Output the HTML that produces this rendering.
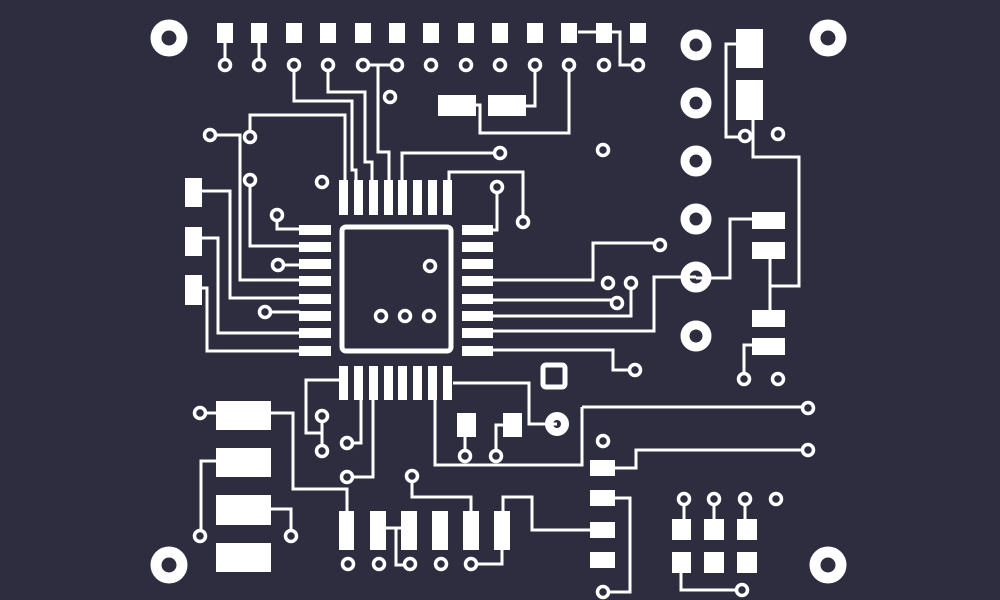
<!DOCTYPE html>
<html><head><meta charset="utf-8"><style>
html,body{margin:0;padding:0;background:#2d2d3f;}
svg{display:block}
</style></head><body>
<svg width="1000" height="600" viewBox="0 0 1000 600" xmlns="http://www.w3.org/2000/svg">
<rect width="1000" height="600" fill="#2d2d3f"/>
<g fill="none" stroke="#fff" stroke-width="3">
<path d="M225,34V65M259,34V65"/>
<path d="M294,65V101H352V170H356V181"/>
<path d="M328,65V92H365V162H372V181"/>
<path d="M363,65H397M378,65V152H389V181"/>
<path d="M250,137V115H345V181"/>
<path d="M210,135H240V280H300"/>
<path d="M250,180V246H300"/>
<path d="M277,215V229H300"/>
<path d="M278,265H300"/>
<path d="M265,312H300"/>
<path d="M202,191H230V298H300"/>
<path d="M202,238H218V333H300"/>
<path d="M202,288H207V351H300"/>
<path d="M402,181V153H500"/>
<path d="M449,181V172H523V222"/>
<path d="M497,187V230H492"/>
<path d="M535,65V106H526"/>
<path d="M476,105H480V133H569V65"/>
<path d="M578,32H596M612,32H620V65H638"/>
<path d="M492,280H593V243H660"/>
<path d="M492,300H617"/>
<path d="M492,316H631V283"/>
<path d="M492,331H654V277H696"/>
<path d="M492,350H613V370H635"/>
<path d="M736,44H726V137H745"/>
<path d="M753,120V157H799V286H770"/>
<path d="M770,259V310"/>
<path d="M752,219H730V278H696"/>
<path d="M752,345H744V379"/>
<path d="M582,407H808M582,407V465H435V400"/>
<path d="M615,468H636V450H808"/>
<path d="M615,498H630V592H603"/>
<path d="M590,530H532V497H503V512"/>
<path d="M684,499V520M714,499V520M745,499V520"/>
<path d="M681,573V590H742"/>
<path d="M200,413H216M271,413H293V489H347V512"/>
<path d="M216,461H201V536"/>
<path d="M271,509H291V536"/>
<path d="M386,528H401M396,528V565H410"/>
<path d="M412,476V497H471V512"/>
<path d="M502,550V564H471"/>
<path d="M345,398V380H306V433H322M322,416V451"/>
<path d="M347,443H361V398"/>
<path d="M347,477H373V398"/>
<path d="M465,436V456M503,425H496V456"/>
<path d="M453,383H529V424H557"/>
</g>
<g fill="#fff">
<rect x="217" y="23" width="16" height="20"/><rect x="251" y="23" width="16" height="20"/>
<rect x="286" y="23" width="16" height="20"/><rect x="320" y="23" width="16" height="20"/>
<rect x="355" y="23" width="16" height="20"/><rect x="389" y="23" width="16" height="20"/>
<rect x="423" y="23" width="16" height="20"/><rect x="458" y="23" width="16" height="20"/>
<rect x="492" y="23" width="16" height="20"/><rect x="527" y="23" width="16" height="20"/>
<rect x="561" y="23" width="16" height="20"/><rect x="596" y="23" width="16" height="20"/>
<rect x="630" y="23" width="16" height="20"/>
<rect x="438" y="95" width="38" height="21"/><rect x="488" y="95" width="38" height="21"/>
<rect x="185" y="178" width="17" height="29"/><rect x="185" y="227" width="17" height="29"/><rect x="185" y="275" width="17" height="30"/>
<rect x="339" y="180" width="9" height="35"/><rect x="354" y="180" width="9" height="35"/><rect x="369" y="180" width="9" height="35"/><rect x="384" y="180" width="9" height="35"/><rect x="398" y="180" width="9" height="35"/><rect x="413" y="180" width="9" height="35"/><rect x="428" y="180" width="9" height="35"/><rect x="443" y="180" width="9" height="35"/>
<rect x="339" y="366" width="9" height="34"/><rect x="354" y="366" width="9" height="34"/><rect x="369" y="366" width="9" height="34"/><rect x="384" y="366" width="9" height="34"/><rect x="398" y="366" width="9" height="34"/><rect x="413" y="366" width="9" height="34"/><rect x="428" y="366" width="9" height="34"/><rect x="443" y="366" width="9" height="34"/>
<rect x="299" y="225" width="32" height="10"/><rect x="299" y="242" width="32" height="10"/><rect x="299" y="259" width="32" height="10"/><rect x="299" y="276" width="32" height="10"/><rect x="299" y="294" width="32" height="10"/><rect x="299" y="311" width="32" height="10"/><rect x="299" y="328" width="32" height="10"/><rect x="299" y="346" width="32" height="10"/>
<rect x="462" y="225" width="31" height="10"/><rect x="462" y="242" width="31" height="10"/><rect x="462" y="259" width="31" height="10"/><rect x="462" y="276" width="31" height="10"/><rect x="462" y="294" width="31" height="10"/><rect x="462" y="311" width="31" height="10"/><rect x="462" y="328" width="31" height="10"/><rect x="462" y="346" width="31" height="10"/>
<rect x="736" y="29" width="27" height="39"/><rect x="736" y="80" width="27" height="40"/>
<rect x="752" y="212" width="33" height="17"/><rect x="752" y="242" width="33" height="17"/><rect x="752" y="310" width="33" height="17"/><rect x="752" y="338" width="33" height="17"/>
<rect x="590" y="460" width="25" height="16"/><rect x="590" y="490" width="25" height="16"/><rect x="590" y="522" width="25" height="16"/><rect x="590" y="552" width="25" height="16"/>
<rect x="672" y="519" width="19" height="21"/><rect x="704" y="519" width="20" height="21"/><rect x="737" y="519" width="20" height="21"/>
<rect x="672" y="552" width="19" height="21"/><rect x="704" y="552" width="20" height="21"/><rect x="737" y="552" width="20" height="21"/>
<rect x="216" y="401" width="55" height="29"/><rect x="216" y="448" width="55" height="29"/><rect x="216" y="495" width="55" height="30"/><rect x="216" y="543" width="55" height="29"/>
<rect x="339" y="511" width="15" height="39"/><rect x="370" y="511" width="16" height="39"/><rect x="401" y="511" width="16" height="39"/><rect x="432" y="511" width="16" height="39"/><rect x="463" y="511" width="16" height="39"/><rect x="494" y="511" width="16" height="39"/>
<rect x="457" y="413" width="19" height="24"/><rect x="503" y="413" width="19" height="24"/>
</g>
<rect x="342" y="227" width="109" height="124" rx="4" fill="none" stroke="#fff" stroke-width="5"/>
<rect x="543" y="365" width="22" height="22" rx="3" fill="none" stroke="#fff" stroke-width="5"/>
<g fill="none" stroke="#fff">
<circle cx="169" cy="38" r="13" stroke-width="11"/><circle cx="828" cy="38" r="13" stroke-width="11"/>
<circle cx="828" cy="565" r="13" stroke-width="11"/><circle cx="169" cy="565" r="13" stroke-width="11"/>
<g stroke-width="9"><circle cx="696" cy="45" r="11"/><circle cx="696" cy="103" r="11"/><circle cx="696" cy="161" r="11"/><circle cx="696" cy="219" r="11"/><circle cx="696" cy="277" r="11"/><circle cx="696" cy="336" r="11"/></g>
<circle cx="557" cy="424" r="8" stroke-width="8"/>
</g>
<g fill="#2d2d3f" stroke="#fff" stroke-width="3.5">
<circle cx="225" cy="65" r="5.5"/><circle cx="259" cy="65" r="5.5"/><circle cx="294" cy="65" r="5.5"/><circle cx="328" cy="65" r="5.5"/><circle cx="363" cy="65" r="5.5"/><circle cx="397" cy="65" r="5.5"/><circle cx="431" cy="65" r="5.5"/><circle cx="466" cy="65" r="5.5"/><circle cx="500" cy="65" r="5.5"/><circle cx="535" cy="65" r="5.5"/><circle cx="569" cy="65" r="5.5"/><circle cx="604" cy="65" r="5.5"/><circle cx="638" cy="65" r="5.5"/>
<circle cx="390" cy="97" r="5.5"/><circle cx="210" cy="135" r="5.5"/><circle cx="250" cy="137" r="5.5"/><circle cx="250" cy="180" r="5.5"/><circle cx="322" cy="182" r="5.5"/>
<circle cx="500" cy="153" r="5.5"/><circle cx="497" cy="187" r="5.5"/><circle cx="523" cy="222" r="5.5"/><circle cx="603" cy="150" r="5.5"/>
<circle cx="277" cy="215" r="5.5"/><circle cx="278" cy="265" r="5.5"/><circle cx="265" cy="312" r="5.5"/>
<circle cx="430" cy="266" r="5.5"/><circle cx="381" cy="316" r="5.5"/><circle cx="405" cy="316" r="5.5"/><circle cx="429" cy="316" r="5.5"/>
<circle cx="660" cy="245" r="5.5"/><circle cx="608" cy="283" r="5.5"/><circle cx="631" cy="283" r="5.5"/><circle cx="617" cy="303" r="5.5"/><circle cx="635" cy="370" r="5.5"/>
<circle cx="745" cy="136" r="5.5"/><circle cx="778" cy="134" r="5.5"/><circle cx="744" cy="379" r="5.5"/><circle cx="778" cy="379" r="5.5"/>
<circle cx="808" cy="408" r="5.5"/><circle cx="808" cy="450" r="5.5"/><circle cx="603" cy="441" r="5.5"/><circle cx="603" cy="592" r="5.5"/>
<circle cx="684" cy="499" r="5.5"/><circle cx="714" cy="499" r="5.5"/><circle cx="745" cy="499" r="5.5"/><circle cx="776" cy="499" r="5.5"/><circle cx="742" cy="590" r="5.5"/>
<circle cx="200" cy="413" r="5.5"/><circle cx="200" cy="536" r="5.5"/><circle cx="291" cy="536" r="5.5"/>
<circle cx="322" cy="416" r="5.5"/><circle cx="322" cy="451" r="5.5"/><circle cx="347" cy="443" r="5.5"/><circle cx="347" cy="477" r="5.5"/>
<circle cx="412" cy="476" r="5.5"/><circle cx="465" cy="456" r="5.5"/><circle cx="496" cy="456" r="5.5"/>
<circle cx="348" cy="564" r="5.5"/><circle cx="379" cy="564" r="5.5"/><circle cx="410" cy="564" r="5.5"/><circle cx="441" cy="564" r="5.5"/><circle cx="471" cy="564" r="5.5"/>
</g>
</svg>
</body></html>
